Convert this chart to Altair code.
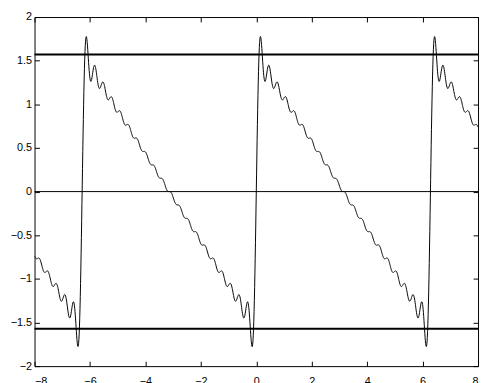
import altair as alt
import numpy as np
import pandas as pd

# Partial Fourier sum of the sawtooth (pi - x)/2: 20 harmonics
HARMONICS = list(range(1, 21))
AMPLITUDES = [1.0 / k for k in HARMONICS]
X_RANGE = [-8, 8]
Y_RANGE = [-2, 2]
X_TICKS = [-8, -6, -4, -2, 0, 2, 4, 6, 8]
Y_TICKS = [-2, -1.5, -1, -0.5, 0, 0.5, 1, 1.5, 2]
THICK_LEVELS = [1.5708, -1.5708]
THIN_LEVELS = [0]

xg = np.linspace(X_RANGE[0], X_RANGE[1], 1601)
yg = np.zeros_like(xg)
for k, a in zip(HARMONICS, AMPLITUDES):
    yg = yg + a * np.sin(k * xg)
df = pd.DataFrame({"x": xg, "y": yg})

xs = alt.Scale(domain=X_RANGE, nice=False, zero=False)
ys = alt.Scale(domain=Y_RANGE, nice=False, zero=False)

common = dict(grid=False, domain=False, title=None, offset=-5, tickSize=5)

curve = alt.Chart(df).mark_line(color="black", strokeWidth=1, clip=True).encode(
    x=alt.X("x:Q", scale=xs, axis=alt.Axis(orient="bottom", values=X_TICKS, format="~g", labelPadding=10, **common)),
    y=alt.Y("y:Q", scale=ys, axis=alt.Axis(orient="left", values=Y_TICKS, format="~g", labelPadding=3, **common)),
)

frame_axes = alt.Chart(df.iloc[:1]).mark_point(opacity=0).encode(
    x=alt.X("x:Q", scale=xs, axis=alt.Axis(orient="top", values=X_TICKS, labels=False, **common)),
    y=alt.Y("y:Q", scale=ys, axis=alt.Axis(orient="right", values=Y_TICKS, labels=False, **common)),
)

thick = alt.Chart(pd.DataFrame({"y": THICK_LEVELS})).mark_rule(color="black", strokeWidth=2).encode(
    y=alt.Y("y:Q", scale=ys, axis=None)
)
thin = alt.Chart(pd.DataFrame({"y": THIN_LEVELS})).mark_rule(color="black", strokeWidth=1).encode(
    y=alt.Y("y:Q", scale=ys, axis=None)
)

chart = (
    alt.layer(curve, thin, thick, frame_axes)
    .resolve_axis(x="independent", y="independent")
    .properties(
        width=451,
        height=355,
        autosize="none",
        padding={"left": 27, "top": 6, "right": 2, "bottom": 16},
    )
    .configure_view(stroke="black", strokeWidth=1)
    .configure_axis(
        labelFont="Liberation Sans",
        labelFontSize=11,
        labelColor="black",
        tickColor="black",
        tickWidth=1,
    )
)

chart.save("out.html", embed_options={"renderer": "svg", "actions": False})
